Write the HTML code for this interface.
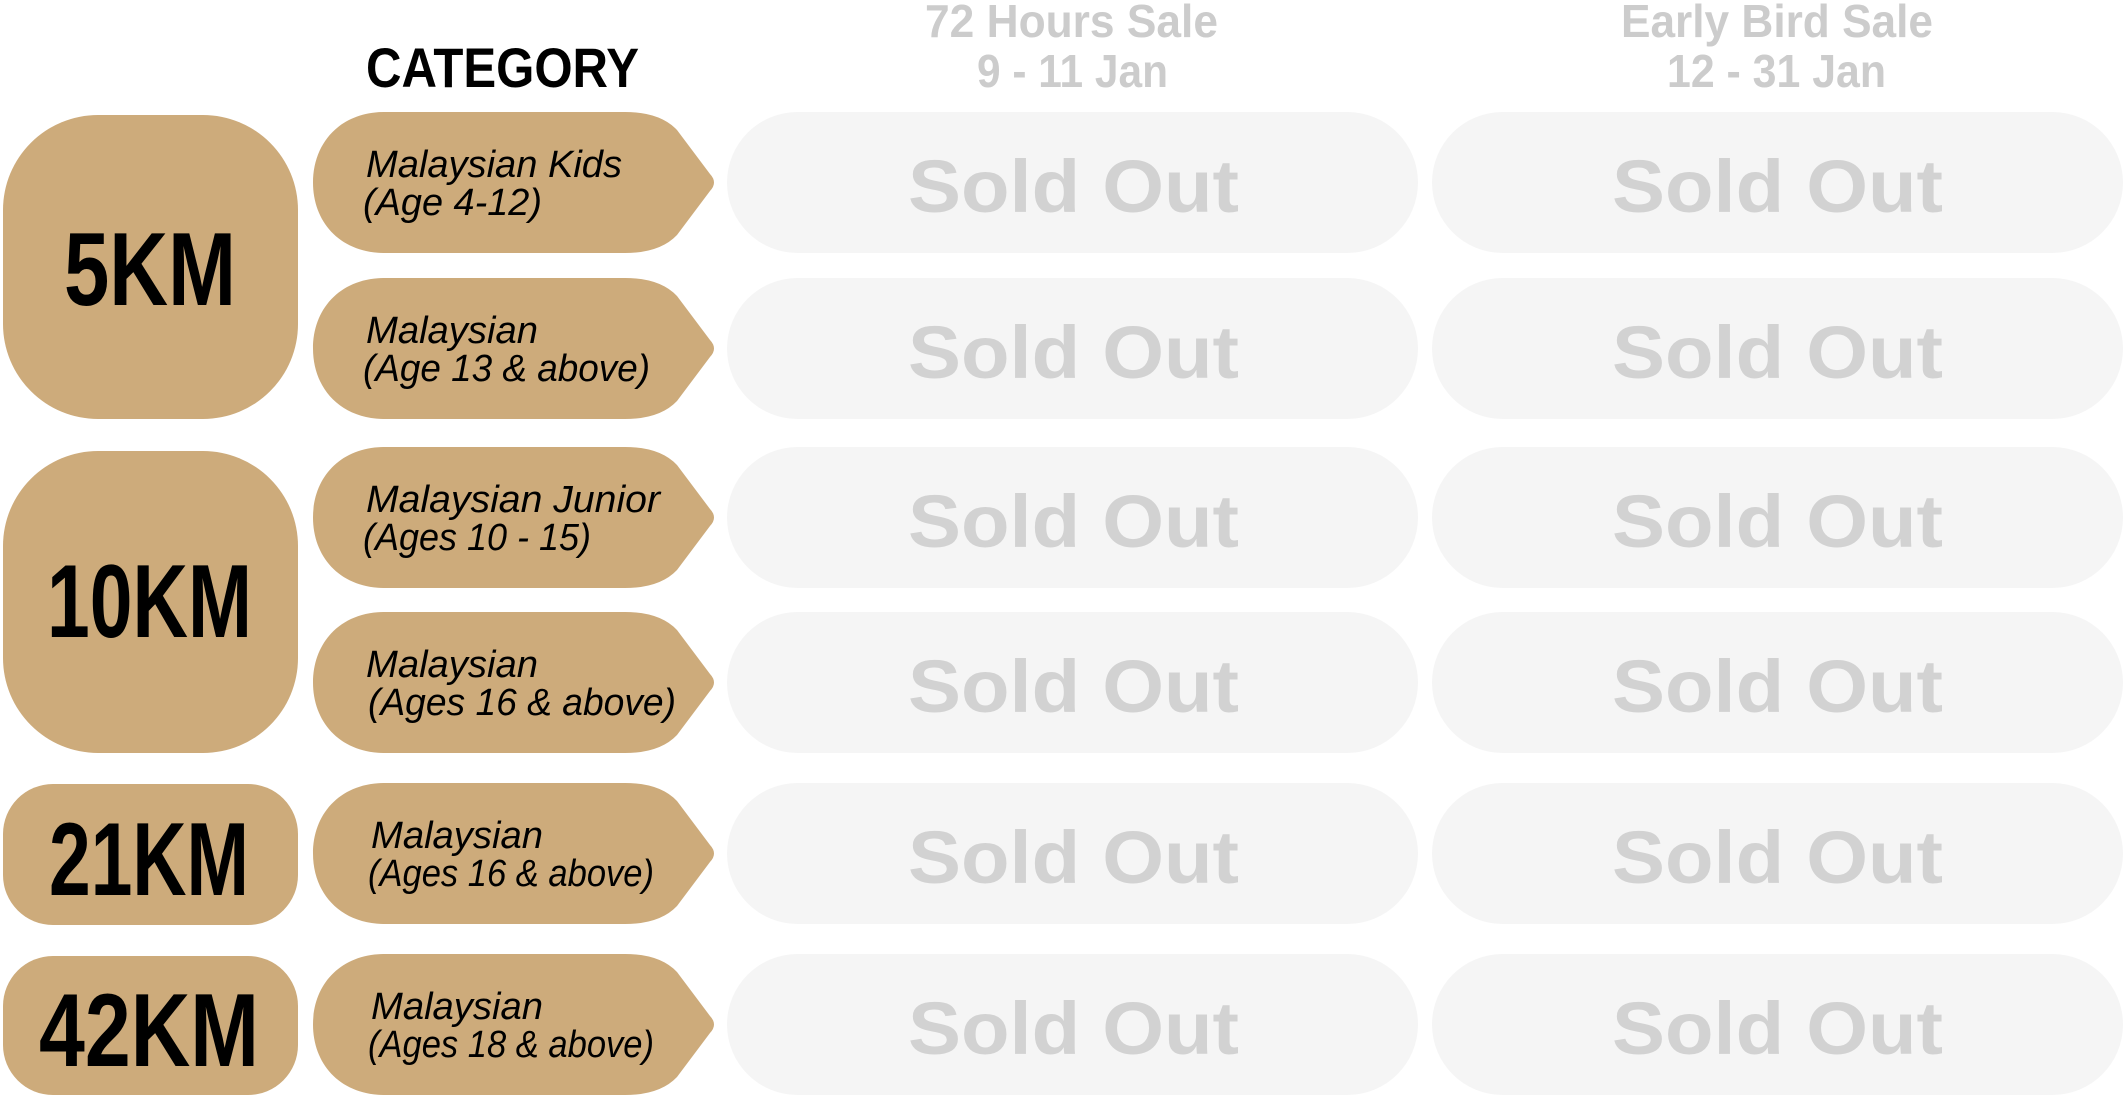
<!DOCTYPE html>
<html><head><meta charset="utf-8"><style>
html,body{margin:0;padding:0;background:#fff;}
svg{display:block}
</style></head><body>
<svg width="2124" height="1096" viewBox="0 0 2124 1096" xmlns="http://www.w3.org/2000/svg">
<defs>
<path id="tag" d="M385 0 L625 0 Q660 0 677 18 L710 62 Q718 70.5 710 79 L677 123 Q660 141 625 141 L385 141 C340 141 313 110 313 70.5 C313 31 340 0 385 0 Z" fill="#cdab7b"/>
<rect id="pill" x="0" y="0" width="691" height="141" rx="70.5" fill="#f5f5f5"/>
</defs>
<g font-family="Liberation Sans, sans-serif" font-weight="bold">
<text x="366" y="87" font-size="56" fill="#000" textLength="273" lengthAdjust="spacingAndGlyphs">CATEGORY</text>
<g fill="#cccccc" font-size="46">
<text x="925" y="37" textLength="293" lengthAdjust="spacingAndGlyphs">72 Hours Sale</text>
<text x="977" y="87" textLength="191" lengthAdjust="spacingAndGlyphs">9 - 11 Jan</text>
<text x="1621" y="37" textLength="312" lengthAdjust="spacingAndGlyphs">Early Bird Sale</text>
<text x="1667" y="87" textLength="219" lengthAdjust="spacingAndGlyphs">12 - 31 Jan</text>
</g>
</g>
<!-- distance boxes -->
<g fill="#cdab7b">
<rect x="3" y="115" width="295" height="304" rx="95"/>
<rect x="3" y="451" width="295" height="302" rx="95"/>
<rect x="3" y="784" width="295" height="141" rx="50"/>
<rect x="3" y="956" width="295" height="139" rx="50"/>
</g>
<g font-family="Liberation Sans, sans-serif" font-weight="bold" font-size="104" fill="#000">
<text x="64" y="305" textLength="172" lengthAdjust="spacingAndGlyphs">5KM</text>
<text x="47" y="637" textLength="205" lengthAdjust="spacingAndGlyphs">10KM</text>
<text x="49" y="895" textLength="200" lengthAdjust="spacingAndGlyphs">21KM</text>
<text x="39" y="1066" textLength="220" lengthAdjust="spacingAndGlyphs">42KM</text>
</g>
<!-- tags -->
<use href="#tag" y="112"/>
<use href="#tag" y="278"/>
<use href="#tag" y="447"/>
<use href="#tag" y="612"/>
<use href="#tag" y="783"/>
<use href="#tag" y="954"/>
<g font-family="Liberation Sans, sans-serif" font-style="italic" font-size="38" fill="#000" lengthAdjust="spacingAndGlyphs">
<text x="366" y="177" textLength="256" lengthAdjust="spacingAndGlyphs">Malaysian Kids</text>
<text x="363" y="215" textLength="179" lengthAdjust="spacingAndGlyphs">(Age 4-12)</text>
<text x="366" y="343" textLength="172" lengthAdjust="spacingAndGlyphs">Malaysian</text>
<text x="363" y="381" textLength="287" lengthAdjust="spacingAndGlyphs">(Age 13 &amp; above)</text>
<text x="366" y="512" textLength="294" lengthAdjust="spacingAndGlyphs">Malaysian Junior</text>
<text x="363" y="550" textLength="228" lengthAdjust="spacingAndGlyphs">(Ages 10 - 15)</text>
<text x="366" y="677" textLength="172" lengthAdjust="spacingAndGlyphs">Malaysian</text>
<text x="368" y="715" textLength="308" lengthAdjust="spacingAndGlyphs">(Ages 16 &amp; above)</text>
<text x="371" y="848" textLength="172" lengthAdjust="spacingAndGlyphs">Malaysian</text>
<text x="368" y="886" textLength="286" lengthAdjust="spacingAndGlyphs">(Ages 16 &amp; above)</text>
<text x="371" y="1019" textLength="172" lengthAdjust="spacingAndGlyphs">Malaysian</text>
<text x="368" y="1057" textLength="286" lengthAdjust="spacingAndGlyphs">(Ages 18 &amp; above)</text>
</g>
<!-- pills -->
<g>
<use href="#pill" x="727" y="112"/><use href="#pill" x="1432" y="112"/>
<use href="#pill" x="727" y="278"/><use href="#pill" x="1432" y="278"/>
<use href="#pill" x="727" y="447"/><use href="#pill" x="1432" y="447"/>
<use href="#pill" x="727" y="612"/><use href="#pill" x="1432" y="612"/>
<use href="#pill" x="727" y="783"/><use href="#pill" x="1432" y="783"/>
<use href="#pill" x="727" y="954"/><use href="#pill" x="1432" y="954"/>
</g>
<g font-family="Liberation Sans, sans-serif" font-weight="bold" font-size="74" fill="#d2d2d2">
<text x="908" y="212" textLength="331" lengthAdjust="spacingAndGlyphs">Sold Out</text>
<text x="1612" y="212" textLength="331" lengthAdjust="spacingAndGlyphs">Sold Out</text>
<text x="908" y="378" textLength="331" lengthAdjust="spacingAndGlyphs">Sold Out</text>
<text x="1612" y="378" textLength="331" lengthAdjust="spacingAndGlyphs">Sold Out</text>
<text x="908" y="547" textLength="331" lengthAdjust="spacingAndGlyphs">Sold Out</text>
<text x="1612" y="547" textLength="331" lengthAdjust="spacingAndGlyphs">Sold Out</text>
<text x="908" y="712" textLength="331" lengthAdjust="spacingAndGlyphs">Sold Out</text>
<text x="1612" y="712" textLength="331" lengthAdjust="spacingAndGlyphs">Sold Out</text>
<text x="908" y="883" textLength="331" lengthAdjust="spacingAndGlyphs">Sold Out</text>
<text x="1612" y="883" textLength="331" lengthAdjust="spacingAndGlyphs">Sold Out</text>
<text x="908" y="1054" textLength="331" lengthAdjust="spacingAndGlyphs">Sold Out</text>
<text x="1612" y="1054" textLength="331" lengthAdjust="spacingAndGlyphs">Sold Out</text>
</g>
</svg>
</body></html>
